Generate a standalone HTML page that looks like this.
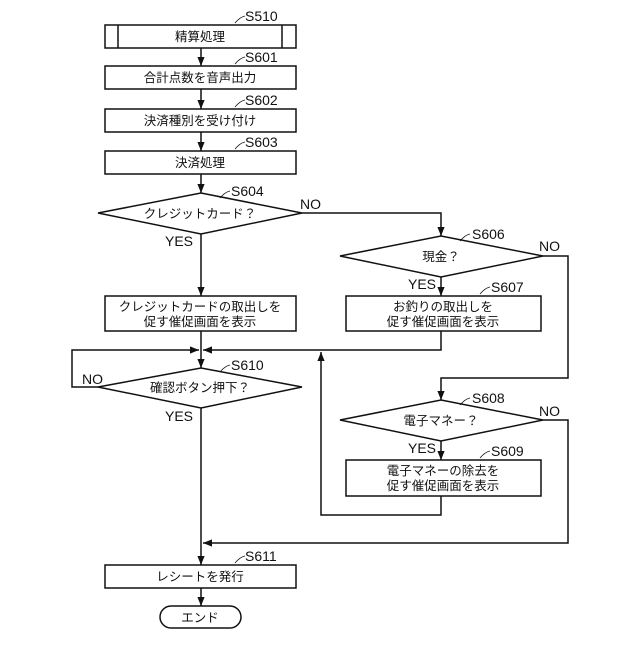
<!DOCTYPE html>
<html><head><meta charset="utf-8"><style>
html,body{margin:0;padding:0;background:#fff}
svg text{font-family:"Liberation Sans","Noto Sans CJK JP",sans-serif;fill:#111}
.j{font-size:12.5px}
.l{font-size:14px}
</style></head><body>
<svg width="640" height="640" viewBox="0 0 640 640" xmlns="http://www.w3.org/2000/svg">
<defs><marker id="a" viewBox="0 0 10 10" refX="10" refY="5" markerWidth="6" markerHeight="6" orient="auto"><path d="M0,1 L10,5 L0,9 z" fill="#111"/></marker></defs>
<g stroke="#111" stroke-width="1.5" fill="none">
<rect x="105" y="25" width="191" height="23"/><line x1="118" y1="25" x2="118" y2="48"/><line x1="282" y1="25" x2="282" y2="48"/>
<rect x="105" y="66" width="191" height="23"/>
<rect x="105" y="109" width="191" height="23"/>
<rect x="105" y="151" width="191" height="23"/>
<polygon points="201,193 302,213 201,234 98,213"/>
<polygon points="441,236 543,256 441,277 340,256"/>
<rect x="105" y="296" width="191" height="35"/>
<rect x="346" y="296" width="195" height="35"/>
<polygon points="201,368 302,387 201,408 98,387"/>
<polygon points="441,400 543,420 441,441 340,420"/>
<rect x="346" y="460" width="195" height="36"/>
<rect x="105" y="565" width="191" height="23"/>
<rect x="160" y="606" width="81" height="22" rx="11"/>
<line x1="201" y1="48" x2="201" y2="66" marker-end="url(#a)"/>
<line x1="201" y1="89" x2="201" y2="109" marker-end="url(#a)"/>
<line x1="201" y1="132" x2="201" y2="151" marker-end="url(#a)"/>
<line x1="201" y1="174" x2="201" y2="193" marker-end="url(#a)"/>
<line x1="201" y1="234" x2="201" y2="296" marker-end="url(#a)"/>
<polyline points="302,213 441,213 441,236" marker-end="url(#a)"/>
<line x1="441" y1="277" x2="441" y2="296" marker-end="url(#a)"/>
<line x1="201" y1="331" x2="201" y2="368" marker-end="url(#a)"/>
<polyline points="441,331 441,350 203,350" marker-end="url(#a)"/>
<polyline points="98,387 72,387 72,350 199,350" marker-end="url(#a)"/>
<polyline points="543,256 568,256 568,378 441,378 441,400" marker-end="url(#a)"/>
<line x1="441" y1="441" x2="441" y2="460" marker-end="url(#a)"/>
<polyline points="441,496 441,515 321,515 321,352" marker-end="url(#a)"/>
<polyline points="543,420 568,420 568,543 203,543" marker-end="url(#a)"/>
<line x1="201" y1="408" x2="201" y2="565" marker-end="url(#a)"/>
<line x1="201" y1="588" x2="201" y2="606" marker-end="url(#a)"/>
<path d="M235,23 q5,-6 10,-7 M235,64 q5,-6 10,-7 M235,107 q5,-6 10,-7 M235,149 q5,-6 10,-7 M220,198 q5,-6 10,-7 M460,241 q5,-6 10,-7 M480,294 q5,-6 10,-7 M220,372 q5,-6 10,-7 M460,405 q5,-6 10,-7 M480,458 q5,-6 10,-7 M235,563 q5,-6 10,-7" stroke-width="0.8"/>
</g>
<g class="j" text-anchor="middle">
<text x="200" y="41">精算処理</text>
<text x="200" y="82">合計点数を音声出力</text>
<text x="200" y="125">決済種別を受け付け</text>
<text x="200" y="167">決済処理</text>
<text x="200" y="218">クレジットカード？</text>
<text x="441" y="261">現金？</text>
<text x="200" y="311">クレジットカードの取出しを</text>
<text x="200" y="326">促す催促画面を表示</text>
<text x="443" y="311">お釣りの取出しを</text>
<text x="443" y="326">促す催促画面を表示</text>
<text x="200" y="392">確認ボタン押下？</text>
<text x="441" y="425">電子マネー？</text>
<text x="443" y="475">電子マネーの除去を</text>
<text x="443" y="490">促す催促画面を表示</text>
<text x="200" y="581">レシートを発行</text>
<text x="200" y="622">エンド</text>
</g>
<g class="l">
<text x="245" y="21">S510</text>
<text x="245" y="62">S601</text>
<text x="245" y="105">S602</text>
<text x="245" y="147">S603</text>
<text x="231" y="196">S604</text>
<text x="472" y="239">S606</text>
<text x="491" y="292">S607</text>
<text x="231" y="370">S610</text>
<text x="472" y="403">S608</text>
<text x="491" y="456">S609</text>
<text x="245" y="561">S611</text>
<text x="300" y="209">NO</text>
<text x="539" y="251">NO</text>
<text x="539" y="416">NO</text>
<text x="82" y="384">NO</text>
<text x="165" y="246">YES</text>
<text x="408" y="289">YES</text>
<text x="408" y="453">YES</text>
<text x="165" y="421">YES</text>
</g>
</svg>
</body></html>
